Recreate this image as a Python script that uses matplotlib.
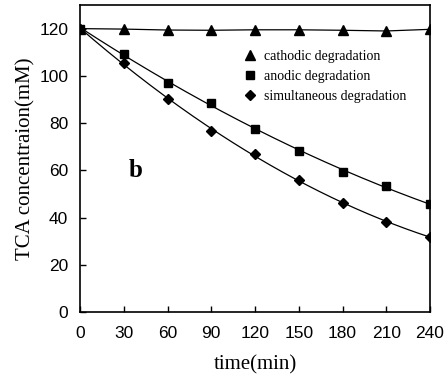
import matplotlib
matplotlib.use("Agg")
import matplotlib.pyplot as plt
import numpy as np

plt.rcParams["font.family"] = ["Liberation Serif", "DejaVu Serif"]

time = [0, 30, 60, 90, 120, 150, 180, 210, 240]
cathodic = [120, 119.8, 119.4, 119.3, 119.5, 119.5, 119.3, 119.0, 119.7]
anodic = [120, 109.4, 97.1, 88.5, 77.7, 68.3, 59.2, 53.2, 45.8]
simultaneous = [120, 105.5, 90.3, 76.5, 67.1, 55.7, 46.2, 38.0, 31.9]

fig = plt.figure(figsize=(4.48, 3.78), dpi=100)
ax = fig.add_axes([80 / 448, 1 - 312 / 378, 350 / 448, 307 / 378])

t = np.array(time, dtype=float)
tt = np.linspace(0, 240, 200)

# cathodic: plain line through points
ax.plot(time, cathodic, color="black", lw=0.9)
ax.plot(time, cathodic, ls="none", marker="^", color="black", ms=7.2,
        label="cathodic degradation")

# anodic and simultaneous: smooth trend curves fitted to the points
for vals, mk, ms, lab in [(anodic, "s", 6.3, "anodic degradation"),
                          (simultaneous, "D", 5.3, "simultaneous degradation")]:
    coef = np.polyfit(t, vals, 2)
    ax.plot(tt, np.polyval(coef, tt), color="black", lw=0.9)
    ax.plot(time, vals, ls="none", marker=mk, color="black", ms=ms, label=lab)

ax.set_xlim(0, 240)
ax.set_ylim(0, 130)
ax.set_xticks(time)
ax.set_yticks([0, 20, 40, 60, 80, 100, 120])
ax.tick_params(direction="in", length=4, width=1)
ax.tick_params(axis="x", pad=10)
ax.tick_params(axis="y", pad=8.5)
for lbl in ax.get_xticklabels() + ax.get_yticklabels():
    lbl.set_family("Liberation Sans")
    lbl.set_fontsize(12.5)
for s in ax.spines.values():
    s.set_linewidth(1.2)

ax.set_xlabel("time(min)", fontsize=15, labelpad=10)
ax.set_ylabel("TCA concentraion(mM)", fontsize=15, labelpad=2.5)
ax.text(38, 60, "b", fontsize=18, fontweight="bold", ha="center", va="center")

ax.legend(loc="upper left", bbox_to_anchor=(0.449, 0.872), frameon=False,
          fontsize=10, handletextpad=0.5, handlelength=1.0,
          labelspacing=0.5, borderaxespad=0.0)

fig.savefig("out.png", dpi=100)
